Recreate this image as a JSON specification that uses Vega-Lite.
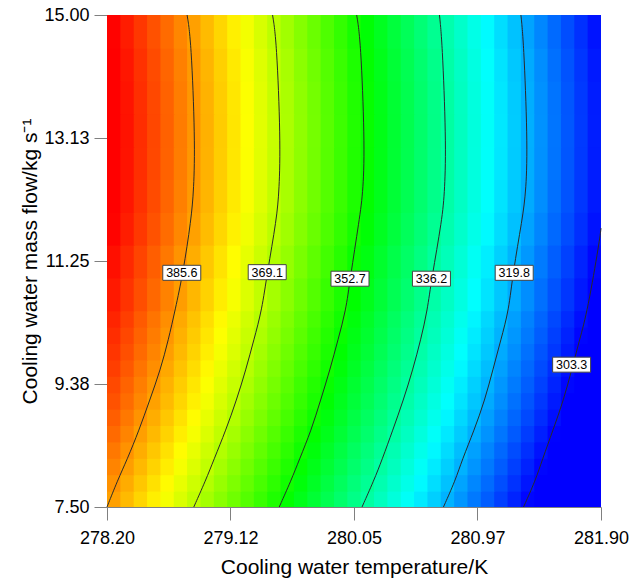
{
  "$schema": "https://vega.github.io/schema/vega-lite/v6.json",
  "width": 494,
  "height": 492,
  "autosize": {"type": "none"},
  "padding": {"left": 107, "top": 15, "right": 39, "bottom": 72},
  "background": "white",
  "config": {
    "view": {"stroke": null},
    "font": "Liberation Sans",
    "axis": {
      "grid": false,
      "tickSize": 13,
      "tickColor": "#808080",
      "domainColor": "#808080",
      "labelFontSize": 18,
      "labelColor": "#000000",
      "labelFont": "Liberation Sans",
      "titleFont": "Liberation Sans",
      "titleFontSize": 21,
      "titleFontWeight": "normal",
      "titleColor": "#000000",
      "labelFlush": false,
      "labelOverlap": false,
      "zindex": 1
    }
  },
  "layer": [
    {
      "data": {
        "values": "x,y,z\n278.2,7.5,385.1\n278.3,7.5,382.6\n278.4,7.5,380\n278.5,7.5,377.5\n278.6,7.5,375\n278.7,7.5,372.4\n278.8,7.5,369.9\n278.9,7.5,367.3\n279,7.5,364.7\n279.1,7.5,362.2\n279.2,7.5,359.6\n279.3,7.5,357\n279.4,7.5,354.4\n279.5,7.5,351.8\n279.6,7.5,349.1\n279.7,7.5,346.5\n279.8,7.5,343.8\n279.9,7.5,341.2\n280,7.5,338.5\n280.1,7.5,335.9\n280.2,7.5,333.2\n280.3,7.5,330.5\n280.4,7.5,327.8\n280.5,7.5,325.1\n280.6,7.5,322.4\n280.7,7.5,319.7\n280.8,7.5,316.9\n280.9,7.5,314.1\n281,7.5,311.4\n281.1,7.5,308.6\n281.2,7.5,305.9\n281.3,7.5,303.1\n281.4,7.5,300.3\n281.5,7.5,297.5\n281.6,7.5,294.7\n281.7,7.5,291.9\n281.8,7.5,289.1\n278.2,7.75,386.5\n278.3,7.75,384\n278.4,7.75,381.4\n278.5,7.75,378.9\n278.6,7.75,376.4\n278.7,7.75,373.8\n278.8,7.75,371.3\n278.9,7.75,368.7\n279,7.75,366.1\n279.1,7.75,363.6\n279.2,7.75,361\n279.3,7.75,358.4\n279.4,7.75,355.8\n279.5,7.75,353.2\n279.6,7.75,350.5\n279.7,7.75,347.9\n279.8,7.75,345.2\n279.9,7.75,342.6\n280,7.75,339.9\n280.1,7.75,337.3\n280.2,7.75,334.6\n280.3,7.75,331.9\n280.4,7.75,329.2\n280.5,7.75,326.5\n280.6,7.75,323.8\n280.7,7.75,321.1\n280.8,7.75,318.3\n280.9,7.75,315.5\n281,7.75,312.8\n281.1,7.75,310\n281.2,7.75,307.3\n281.3,7.75,304.5\n281.4,7.75,301.7\n281.5,7.75,298.9\n281.6,7.75,296.1\n281.7,7.75,293.3\n281.8,7.75,290.5\n278.2,8,387.8\n278.3,8,385.3\n278.4,8,382.7\n278.5,8,380.2\n278.6,8,377.7\n278.7,8,375.1\n278.8,8,372.6\n278.9,8,370\n279,8,367.4\n279.1,8,364.9\n279.2,8,362.3\n279.3,8,359.7\n279.4,8,357.1\n279.5,8,354.5\n279.6,8,351.8\n279.7,8,349.2\n279.8,8,346.5\n279.9,8,343.9\n280,8,341.2\n280.1,8,338.6\n280.2,8,335.9\n280.3,8,333.2\n280.4,8,330.5\n280.5,8,327.8\n280.6,8,325.1\n280.7,8,322.4\n280.8,8,319.6\n280.9,8,316.8\n281,8,314.1\n281.1,8,311.3\n281.2,8,308.6\n281.3,8,305.8\n281.4,8,303\n281.5,8,300.2\n281.6,8,297.4\n281.7,8,294.6\n281.8,8,291.8\n278.2,8.25,389\n278.3,8.25,386.5\n278.4,8.25,383.9\n278.5,8.25,381.4\n278.6,8.25,378.9\n278.7,8.25,376.3\n278.8,8.25,373.8\n278.9,8.25,371.2\n279,8.25,368.6\n279.1,8.25,366.1\n279.2,8.25,363.5\n279.3,8.25,360.9\n279.4,8.25,358.3\n279.5,8.25,355.7\n279.6,8.25,353\n279.7,8.25,350.4\n279.8,8.25,347.7\n279.9,8.25,345.1\n280,8.25,342.4\n280.1,8.25,339.8\n280.2,8.25,337.1\n280.3,8.25,334.4\n280.4,8.25,331.7\n280.5,8.25,329\n280.6,8.25,326.3\n280.7,8.25,323.6\n280.8,8.25,320.8\n280.9,8.25,318\n281,8.25,315.3\n281.1,8.25,312.5\n281.2,8.25,309.8\n281.3,8.25,307\n281.4,8.25,304.2\n281.5,8.25,301.4\n281.6,8.25,298.6\n281.7,8.25,295.8\n281.8,8.25,293\n278.2,8.5,390.3\n278.3,8.5,387.8\n278.4,8.5,385.2\n278.5,8.5,382.7\n278.6,8.5,380.2\n278.7,8.5,377.6\n278.8,8.5,375.1\n278.9,8.5,372.5\n279,8.5,369.9\n279.1,8.5,367.4\n279.2,8.5,364.8\n279.3,8.5,362.2\n279.4,8.5,359.6\n279.5,8.5,357\n279.6,8.5,354.3\n279.7,8.5,351.7\n279.8,8.5,349\n279.9,8.5,346.4\n280,8.5,343.7\n280.1,8.5,341.1\n280.2,8.5,338.4\n280.3,8.5,335.7\n280.4,8.5,333\n280.5,8.5,330.3\n280.6,8.5,327.6\n280.7,8.5,324.9\n280.8,8.5,322.1\n280.9,8.5,319.3\n281,8.5,316.6\n281.1,8.5,313.8\n281.2,8.5,311.1\n281.3,8.5,308.3\n281.4,8.5,305.5\n281.5,8.5,302.7\n281.6,8.5,299.9\n281.7,8.5,297.1\n281.8,8.5,294.3\n278.2,8.75,391.5\n278.3,8.75,389\n278.4,8.75,386.4\n278.5,8.75,383.9\n278.6,8.75,381.4\n278.7,8.75,378.8\n278.8,8.75,376.3\n278.9,8.75,373.7\n279,8.75,371.1\n279.1,8.75,368.6\n279.2,8.75,366\n279.3,8.75,363.4\n279.4,8.75,360.8\n279.5,8.75,358.2\n279.6,8.75,355.5\n279.7,8.75,352.9\n279.8,8.75,350.2\n279.9,8.75,347.6\n280,8.75,344.9\n280.1,8.75,342.3\n280.2,8.75,339.6\n280.3,8.75,336.9\n280.4,8.75,334.2\n280.5,8.75,331.5\n280.6,8.75,328.8\n280.7,8.75,326.1\n280.8,8.75,323.3\n280.9,8.75,320.5\n281,8.75,317.8\n281.1,8.75,315\n281.2,8.75,312.3\n281.3,8.75,309.5\n281.4,8.75,306.7\n281.5,8.75,303.9\n281.6,8.75,301.1\n281.7,8.75,298.3\n281.8,8.75,295.5\n278.2,9,392.6\n278.3,9,390.1\n278.4,9,387.5\n278.5,9,385\n278.6,9,382.5\n278.7,9,379.9\n278.8,9,377.4\n278.9,9,374.8\n279,9,372.2\n279.1,9,369.7\n279.2,9,367.1\n279.3,9,364.5\n279.4,9,361.9\n279.5,9,359.3\n279.6,9,356.6\n279.7,9,354\n279.8,9,351.3\n279.9,9,348.7\n280,9,346\n280.1,9,343.4\n280.2,9,340.7\n280.3,9,338\n280.4,9,335.3\n280.5,9,332.6\n280.6,9,329.9\n280.7,9,327.2\n280.8,9,324.4\n280.9,9,321.6\n281,9,318.9\n281.1,9,316.1\n281.2,9,313.4\n281.3,9,310.6\n281.4,9,307.8\n281.5,9,305\n281.6,9,302.2\n281.7,9,299.4\n281.8,9,296.6\n278.2,9.25,393.5\n278.3,9.25,391\n278.4,9.25,388.4\n278.5,9.25,385.9\n278.6,9.25,383.4\n278.7,9.25,380.8\n278.8,9.25,378.3\n278.9,9.25,375.7\n279,9.25,373.1\n279.1,9.25,370.6\n279.2,9.25,368\n279.3,9.25,365.4\n279.4,9.25,362.8\n279.5,9.25,360.2\n279.6,9.25,357.5\n279.7,9.25,354.9\n279.8,9.25,352.2\n279.9,9.25,349.6\n280,9.25,346.9\n280.1,9.25,344.3\n280.2,9.25,341.6\n280.3,9.25,338.9\n280.4,9.25,336.2\n280.5,9.25,333.5\n280.6,9.25,330.8\n280.7,9.25,328.1\n280.8,9.25,325.3\n280.9,9.25,322.5\n281,9.25,319.8\n281.1,9.25,317\n281.2,9.25,314.3\n281.3,9.25,311.5\n281.4,9.25,308.7\n281.5,9.25,305.9\n281.6,9.25,303.1\n281.7,9.25,300.3\n281.8,9.25,297.5\n278.2,9.5,394.5\n278.3,9.5,392\n278.4,9.5,389.4\n278.5,9.5,386.9\n278.6,9.5,384.4\n278.7,9.5,381.8\n278.8,9.5,379.3\n278.9,9.5,376.7\n279,9.5,374.1\n279.1,9.5,371.6\n279.2,9.5,369\n279.3,9.5,366.4\n279.4,9.5,363.8\n279.5,9.5,361.2\n279.6,9.5,358.5\n279.7,9.5,355.9\n279.8,9.5,353.2\n279.9,9.5,350.6\n280,9.5,347.9\n280.1,9.5,345.3\n280.2,9.5,342.6\n280.3,9.5,339.9\n280.4,9.5,337.2\n280.5,9.5,334.5\n280.6,9.5,331.8\n280.7,9.5,329.1\n280.8,9.5,326.3\n280.9,9.5,323.5\n281,9.5,320.8\n281.1,9.5,318\n281.2,9.5,315.3\n281.3,9.5,312.5\n281.4,9.5,309.7\n281.5,9.5,306.9\n281.6,9.5,304.1\n281.7,9.5,301.3\n281.8,9.5,298.5\n278.2,9.75,395.4\n278.3,9.75,392.9\n278.4,9.75,390.3\n278.5,9.75,387.8\n278.6,9.75,385.3\n278.7,9.75,382.7\n278.8,9.75,380.2\n278.9,9.75,377.6\n279,9.75,375\n279.1,9.75,372.5\n279.2,9.75,369.9\n279.3,9.75,367.3\n279.4,9.75,364.7\n279.5,9.75,362.1\n279.6,9.75,359.4\n279.7,9.75,356.8\n279.8,9.75,354.1\n279.9,9.75,351.5\n280,9.75,348.8\n280.1,9.75,346.2\n280.2,9.75,343.5\n280.3,9.75,340.8\n280.4,9.75,338.1\n280.5,9.75,335.4\n280.6,9.75,332.7\n280.7,9.75,330\n280.8,9.75,327.2\n280.9,9.75,324.4\n281,9.75,321.7\n281.1,9.75,318.9\n281.2,9.75,316.2\n281.3,9.75,313.4\n281.4,9.75,310.6\n281.5,9.75,307.8\n281.6,9.75,305\n281.7,9.75,302.2\n281.8,9.75,299.4\n278.2,10,396.2\n278.3,10,393.7\n278.4,10,391.1\n278.5,10,388.6\n278.6,10,386.1\n278.7,10,383.5\n278.8,10,381\n278.9,10,378.4\n279,10,375.8\n279.1,10,373.3\n279.2,10,370.7\n279.3,10,368.1\n279.4,10,365.5\n279.5,10,362.9\n279.6,10,360.2\n279.7,10,357.6\n279.8,10,354.9\n279.9,10,352.3\n280,10,349.6\n280.1,10,347\n280.2,10,344.3\n280.3,10,341.6\n280.4,10,338.9\n280.5,10,336.2\n280.6,10,333.5\n280.7,10,330.8\n280.8,10,328\n280.9,10,325.2\n281,10,322.5\n281.1,10,319.7\n281.2,10,317\n281.3,10,314.2\n281.4,10,311.4\n281.5,10,308.6\n281.6,10,305.8\n281.7,10,303\n281.8,10,300.2\n278.2,10.25,397\n278.3,10.25,394.5\n278.4,10.25,391.9\n278.5,10.25,389.4\n278.6,10.25,386.9\n278.7,10.25,384.3\n278.8,10.25,381.8\n278.9,10.25,379.2\n279,10.25,376.6\n279.1,10.25,374.1\n279.2,10.25,371.5\n279.3,10.25,368.9\n279.4,10.25,366.3\n279.5,10.25,363.7\n279.6,10.25,361\n279.7,10.25,358.4\n279.8,10.25,355.7\n279.9,10.25,353.1\n280,10.25,350.4\n280.1,10.25,347.8\n280.2,10.25,345.1\n280.3,10.25,342.4\n280.4,10.25,339.7\n280.5,10.25,337\n280.6,10.25,334.3\n280.7,10.25,331.6\n280.8,10.25,328.8\n280.9,10.25,326\n281,10.25,323.3\n281.1,10.25,320.5\n281.2,10.25,317.8\n281.3,10.25,315\n281.4,10.25,312.2\n281.5,10.25,309.4\n281.6,10.25,306.6\n281.7,10.25,303.8\n281.8,10.25,301",
        "format": {"type": "csv", "parse": {"x": "number", "y": "number", "z": "number"}}
      },
      "mark": {"type": "rect", "binSpacing": -1, "clip": true},
      "encoding": {
        "x": {
          "field": "x", "type": "quantitative",
          "bin": {"binned": true, "step": 0.1},
          "scale": {"domain": [278.2, 281.9], "nice": false, "zero": false},
          "title": "Cooling water temperature/K",
          "axis": {
            "values": [278.2, 279.1249, 280.05, 280.9749, 281.9],
            "format": ".2f",
            "labelPadding": 9,
            "titlePadding": 9
          }
        },
        "y": {
          "field": "y", "type": "quantitative",
          "bin": {"binned": true, "step": 0.25},
          "scale": {"domain": [7.5, 15], "nice": false, "zero": false},
          "title": "Cooling water mass flow/kg s⁻¹",
          "axis": {
            "values": [7.5, 9.375, 11.25, 13.125, 15],
            "format": ".2f",
            "labelPadding": 5,
            "titlePadding": 3
          }
        },
        "color": {
          "field": "z", "type": "quantitative",
          "scale": {"domain": [302.5, 327, 351.5, 376, 400.5], "range": ["#0000ff", "#00ffff", "#00ff00", "#ffff00", "#ff0000"], "clamp": true, "interpolate": "rgb"},
          "legend": null
        }
      }
    },
    {
      "data": {
        "values": "x,y,z\n278.2,10.5,398.1\n278.3,10.5,395.6\n278.4,10.5,393\n278.5,10.5,390.5\n278.6,10.5,388\n278.7,10.5,385.4\n278.8,10.5,382.9\n278.9,10.5,380.3\n279,10.5,377.7\n279.1,10.5,375.2\n279.2,10.5,372.6\n279.3,10.5,370\n279.4,10.5,367.4\n279.5,10.5,364.8\n279.6,10.5,362.1\n279.7,10.5,359.5\n279.8,10.5,356.8\n279.9,10.5,354.2\n280,10.5,351.5\n280.1,10.5,348.9\n280.2,10.5,346.2\n280.3,10.5,343.5\n280.4,10.5,340.8\n280.5,10.5,338.1\n280.6,10.5,335.4\n280.7,10.5,332.7\n280.8,10.5,329.9\n280.9,10.5,327.1\n281,10.5,324.4\n281.1,10.5,321.6\n281.2,10.5,318.9\n281.3,10.5,316.1\n281.4,10.5,313.3\n281.5,10.5,310.5\n281.6,10.5,307.7\n281.7,10.5,304.9\n281.8,10.5,302.1\n278.2,11,399.1\n278.3,11,396.6\n278.4,11,394\n278.5,11,391.5\n278.6,11,389\n278.7,11,386.4\n278.8,11,383.9\n278.9,11,381.3\n279,11,378.7\n279.1,11,376.2\n279.2,11,373.6\n279.3,11,371\n279.4,11,368.4\n279.5,11,365.8\n279.6,11,363.1\n279.7,11,360.5\n279.8,11,357.8\n279.9,11,355.2\n280,11,352.5\n280.1,11,349.9\n280.2,11,347.2\n280.3,11,344.5\n280.4,11,341.8\n280.5,11,339.1\n280.6,11,336.4\n280.7,11,333.7\n280.8,11,330.9\n280.9,11,328.1\n281,11,325.4\n281.1,11,322.6\n281.2,11,319.9\n281.3,11,317.1\n281.4,11,314.3\n281.5,11,311.5\n281.6,11,308.7\n281.7,11,305.9\n281.8,11,303.1\n278.2,11.5,400.2\n278.3,11.5,397.7\n278.4,11.5,395.1\n278.5,11.5,392.6\n278.6,11.5,390.1\n278.7,11.5,387.5\n278.8,11.5,385\n278.9,11.5,382.4\n279,11.5,379.8\n279.1,11.5,377.3\n279.2,11.5,374.7\n279.3,11.5,372.1\n279.4,11.5,369.5\n279.5,11.5,366.9\n279.6,11.5,364.2\n279.7,11.5,361.6\n279.8,11.5,358.9\n279.9,11.5,356.3\n280,11.5,353.6\n280.1,11.5,351\n280.2,11.5,348.3\n280.3,11.5,345.6\n280.4,11.5,342.9\n280.5,11.5,340.2\n280.6,11.5,337.5\n280.7,11.5,334.8\n280.8,11.5,332\n280.9,11.5,329.2\n281,11.5,326.5\n281.1,11.5,323.7\n281.2,11.5,321\n281.3,11.5,318.2\n281.4,11.5,315.4\n281.5,11.5,312.6\n281.6,11.5,309.8\n281.7,11.5,307\n281.8,11.5,304.2\n278.2,12,400.9\n278.3,12,398.4\n278.4,12,395.8\n278.5,12,393.3\n278.6,12,390.8\n278.7,12,388.2\n278.8,12,385.7\n278.9,12,383.1\n279,12,380.5\n279.1,12,378\n279.2,12,375.4\n279.3,12,372.8\n279.4,12,370.2\n279.5,12,367.6\n279.6,12,364.9\n279.7,12,362.3\n279.8,12,359.6\n279.9,12,357\n280,12,354.3\n280.1,12,351.7\n280.2,12,349\n280.3,12,346.3\n280.4,12,343.6\n280.5,12,340.9\n280.6,12,338.2\n280.7,12,335.5\n280.8,12,332.7\n280.9,12,329.9\n281,12,327.2\n281.1,12,324.4\n281.2,12,321.7\n281.3,12,318.9\n281.4,12,316.1\n281.5,12,313.3\n281.6,12,310.5\n281.7,12,307.7\n281.8,12,304.9\n278.2,12.5,401.2\n278.3,12.5,398.7\n278.4,12.5,396.1\n278.5,12.5,393.6\n278.6,12.5,391.1\n278.7,12.5,388.5\n278.8,12.5,386\n278.9,12.5,383.4\n279,12.5,380.8\n279.1,12.5,378.3\n279.2,12.5,375.7\n279.3,12.5,373.1\n279.4,12.5,370.5\n279.5,12.5,367.9\n279.6,12.5,365.2\n279.7,12.5,362.6\n279.8,12.5,359.9\n279.9,12.5,357.3\n280,12.5,354.6\n280.1,12.5,352\n280.2,12.5,349.3\n280.3,12.5,346.6\n280.4,12.5,343.9\n280.5,12.5,341.2\n280.6,12.5,338.5\n280.7,12.5,335.8\n280.8,12.5,333\n280.9,12.5,330.2\n281,12.5,327.5\n281.1,12.5,324.7\n281.2,12.5,322\n281.3,12.5,319.2\n281.4,12.5,316.4\n281.5,12.5,313.6\n281.6,12.5,310.8\n281.7,12.5,308\n281.8,12.5,305.2\n278.2,13,401.3\n278.3,13,398.8\n278.4,13,396.2\n278.5,13,393.7\n278.6,13,391.2\n278.7,13,388.6\n278.8,13,386.1\n278.9,13,383.5\n279,13,380.9\n279.1,13,378.4\n279.2,13,375.8\n279.3,13,373.2\n279.4,13,370.6\n279.5,13,368\n279.6,13,365.3\n279.7,13,362.7\n279.8,13,360\n279.9,13,357.4\n280,13,354.7\n280.1,13,352.1\n280.2,13,349.4\n280.3,13,346.7\n280.4,13,344\n280.5,13,341.3\n280.6,13,338.6\n280.7,13,335.9\n280.8,13,333.1\n280.9,13,330.3\n281,13,327.6\n281.1,13,324.8\n281.2,13,322.1\n281.3,13,319.3\n281.4,13,316.5\n281.5,13,313.7\n281.6,13,310.9\n281.7,13,308.1\n281.8,13,305.3\n278.2,13.5,401.2\n278.3,13.5,398.7\n278.4,13.5,396.1\n278.5,13.5,393.6\n278.6,13.5,391.1\n278.7,13.5,388.5\n278.8,13.5,386\n278.9,13.5,383.4\n279,13.5,380.8\n279.1,13.5,378.3\n279.2,13.5,375.7\n279.3,13.5,373.1\n279.4,13.5,370.5\n279.5,13.5,367.9\n279.6,13.5,365.2\n279.7,13.5,362.6\n279.8,13.5,359.9\n279.9,13.5,357.3\n280,13.5,354.6\n280.1,13.5,352\n280.2,13.5,349.3\n280.3,13.5,346.6\n280.4,13.5,343.9\n280.5,13.5,341.2\n280.6,13.5,338.5\n280.7,13.5,335.8\n280.8,13.5,333\n280.9,13.5,330.2\n281,13.5,327.5\n281.1,13.5,324.7\n281.2,13.5,322\n281.3,13.5,319.2\n281.4,13.5,316.4\n281.5,13.5,313.6\n281.6,13.5,310.8\n281.7,13.5,308\n281.8,13.5,305.2\n278.2,14,400.9\n278.3,14,398.4\n278.4,14,395.8\n278.5,14,393.3\n278.6,14,390.8\n278.7,14,388.2\n278.8,14,385.7\n278.9,14,383.1\n279,14,380.5\n279.1,14,378\n279.2,14,375.4\n279.3,14,372.8\n279.4,14,370.2\n279.5,14,367.6\n279.6,14,364.9\n279.7,14,362.3\n279.8,14,359.6\n279.9,14,357\n280,14,354.3\n280.1,14,351.7\n280.2,14,349\n280.3,14,346.3\n280.4,14,343.6\n280.5,14,340.9\n280.6,14,338.2\n280.7,14,335.5\n280.8,14,332.7\n280.9,14,329.9\n281,14,327.2\n281.1,14,324.4\n281.2,14,321.7\n281.3,14,318.9\n281.4,14,316.1\n281.5,14,313.3\n281.6,14,310.5\n281.7,14,307.7\n281.8,14,304.9\n278.2,14.5,400.3\n278.3,14.5,397.8\n278.4,14.5,395.2\n278.5,14.5,392.7\n278.6,14.5,390.2\n278.7,14.5,387.6\n278.8,14.5,385.1\n278.9,14.5,382.5\n279,14.5,379.9\n279.1,14.5,377.4\n279.2,14.5,374.8\n279.3,14.5,372.2\n279.4,14.5,369.6\n279.5,14.5,367\n279.6,14.5,364.3\n279.7,14.5,361.7\n279.8,14.5,359\n279.9,14.5,356.4\n280,14.5,353.7\n280.1,14.5,351.1\n280.2,14.5,348.4\n280.3,14.5,345.7\n280.4,14.5,343\n280.5,14.5,340.3\n280.6,14.5,337.6\n280.7,14.5,334.9\n280.8,14.5,332.1\n280.9,14.5,329.3\n281,14.5,326.6\n281.1,14.5,323.8\n281.2,14.5,321.1\n281.3,14.5,318.3\n281.4,14.5,315.5\n281.5,14.5,312.7\n281.6,14.5,309.9\n281.7,14.5,307.1\n281.8,14.5,304.3",
        "format": {"type": "csv", "parse": {"x": "number", "y": "number", "z": "number"}}
      },
      "mark": {"type": "rect", "binSpacing": -1, "clip": true},
      "encoding": {
        "x": {"field": "x", "type": "quantitative", "bin": {"binned": true, "step": 0.1}, "title": "Cooling water temperature/K"},
        "y": {"field": "y", "type": "quantitative", "bin": {"binned": true, "step": 0.5}, "title": "Cooling water mass flow/kg s⁻¹"},
        "color": {"field": "z", "type": "quantitative", "legend": null}
      }
    },
    {
      "data": {
        "values": [
          {"level": "385.6", "x": 278.80, "y": 15.0}, {"level": "385.6", "x": 278.83, "y": 14.62}, {"level": "385.6", "x": 278.86, "y": 13.09}, {"level": "385.6", "x": 278.85, "y": 12.33}, {"level": "385.6", "x": 278.83, "y": 11.88}, {"level": "385.6", "x": 278.77, "y": 11.07}, {"level": "385.6", "x": 278.71, "y": 10.50}, {"level": "385.6", "x": 278.66, "y": 10.05}, {"level": "385.6", "x": 278.60, "y": 9.59}, {"level": "385.6", "x": 278.52, "y": 9.13}, {"level": "385.6", "x": 278.44, "y": 8.67}, {"level": "385.6", "x": 278.35, "y": 8.22}, {"level": "385.6", "x": 278.28, "y": 7.91}, {"level": "385.6", "x": 278.20, "y": 7.5},
          {"level": "369.1", "x": 279.44, "y": 15.0}, {"level": "369.1", "x": 279.47, "y": 14.62}, {"level": "369.1", "x": 279.50, "y": 13.09}, {"level": "369.1", "x": 279.49, "y": 12.33}, {"level": "369.1", "x": 279.47, "y": 11.88}, {"level": "369.1", "x": 279.40, "y": 11.07}, {"level": "369.1", "x": 279.36, "y": 10.50}, {"level": "369.1", "x": 279.30, "y": 10.05}, {"level": "369.1", "x": 279.24, "y": 9.59}, {"level": "369.1", "x": 279.17, "y": 9.13}, {"level": "369.1", "x": 279.09, "y": 8.67}, {"level": "369.1", "x": 279.00, "y": 8.22}, {"level": "369.1", "x": 278.94, "y": 7.91}, {"level": "369.1", "x": 278.85, "y": 7.5},
          {"level": "352.7", "x": 280.07, "y": 15.0}, {"level": "352.7", "x": 280.10, "y": 14.62}, {"level": "352.7", "x": 280.13, "y": 13.09}, {"level": "352.7", "x": 280.12, "y": 12.33}, {"level": "352.7", "x": 280.09, "y": 11.88}, {"level": "352.7", "x": 280.02, "y": 10.97}, {"level": "352.7", "x": 279.99, "y": 10.50}, {"level": "352.7", "x": 279.93, "y": 10.05}, {"level": "352.7", "x": 279.87, "y": 9.59}, {"level": "352.7", "x": 279.80, "y": 9.13}, {"level": "352.7", "x": 279.73, "y": 8.67}, {"level": "352.7", "x": 279.64, "y": 8.22}, {"level": "352.7", "x": 279.58, "y": 7.91}, {"level": "352.7", "x": 279.49, "y": 7.5},
          {"level": "336.2", "x": 280.69, "y": 15.0}, {"level": "336.2", "x": 280.71, "y": 14.62}, {"level": "336.2", "x": 280.74, "y": 13.09}, {"level": "336.2", "x": 280.73, "y": 12.33}, {"level": "336.2", "x": 280.71, "y": 11.88}, {"level": "336.2", "x": 280.63, "y": 10.97}, {"level": "336.2", "x": 280.60, "y": 10.50}, {"level": "336.2", "x": 280.55, "y": 10.05}, {"level": "336.2", "x": 280.49, "y": 9.59}, {"level": "336.2", "x": 280.42, "y": 9.13}, {"level": "336.2", "x": 280.34, "y": 8.67}, {"level": "336.2", "x": 280.26, "y": 8.22}, {"level": "336.2", "x": 280.20, "y": 7.91}, {"level": "336.2", "x": 280.11, "y": 7.5},
          {"level": "319.8", "x": 281.30, "y": 15.0}, {"level": "319.8", "x": 281.32, "y": 14.62}, {"level": "319.8", "x": 281.35, "y": 13.09}, {"level": "319.8", "x": 281.34, "y": 12.33}, {"level": "319.8", "x": 281.31, "y": 11.88}, {"level": "319.8", "x": 281.24, "y": 11.07}, {"level": "319.8", "x": 281.21, "y": 10.50}, {"level": "319.8", "x": 281.15, "y": 10.05}, {"level": "319.8", "x": 281.09, "y": 9.59}, {"level": "319.8", "x": 281.03, "y": 9.13}, {"level": "319.8", "x": 280.95, "y": 8.67}, {"level": "319.8", "x": 280.86, "y": 8.22}, {"level": "319.8", "x": 280.81, "y": 7.91}, {"level": "319.8", "x": 280.72, "y": 7.5},
          {"level": "303.3", "x": 281.90, "y": 11.75}, {"level": "303.3", "x": 281.89, "y": 11.57}, {"level": "303.3", "x": 281.80, "y": 10.50}, {"level": "303.3", "x": 281.74, "y": 10.05}, {"level": "303.3", "x": 281.68, "y": 9.59}, {"level": "303.3", "x": 281.62, "y": 9.13}, {"level": "303.3", "x": 281.54, "y": 8.67}, {"level": "303.3", "x": 281.46, "y": 8.22}, {"level": "303.3", "x": 281.41, "y": 7.91}, {"level": "303.3", "x": 281.32, "y": 7.5}
        ]
      },
      "mark": {"type": "line", "color": "#2a2a2a", "strokeWidth": 1, "interpolate": "basis"},
      "encoding": {
        "x": {"field": "x", "type": "quantitative", "title": "Cooling water temperature/K"},
        "y": {"field": "y", "type": "quantitative", "title": "Cooling water mass flow/kg s⁻¹"},
        "detail": {"field": "level", "type": "nominal"},
        "order": {"field": "y", "type": "quantitative"}
      }
    },
    {
      "data": {
        "values": [
          {"label": "385.6", "x": 278.76, "y": 11.07},
          {"label": "369.1", "x": 279.40, "y": 11.08},
          {"label": "352.7", "x": 280.02, "y": 10.98},
          {"label": "336.2", "x": 280.63, "y": 10.98},
          {"label": "319.8", "x": 281.25, "y": 11.07},
          {"label": "303.3", "x": 281.68, "y": 9.67}
        ]
      },
      "layer": [
        {
          "mark": {"type": "point", "shape": "M-1,-0.395L1,-0.395L1,0.395L-1,0.395Z", "size": 1444, "filled": true, "fill": "#ffffff", "stroke": "#444444", "strokeWidth": 1, "opacity": 1},
          "encoding": {
            "x": {"field": "x", "type": "quantitative", "title": "Cooling water temperature/K"},
            "y": {"field": "y", "type": "quantitative", "title": "Cooling water mass flow/kg s⁻¹"}
          }
        },
        {
          "mark": {"type": "text", "font": "Liberation Sans", "fontSize": 12.5, "color": "#000000", "align": "center", "baseline": "middle", "dy": 0.5},
          "encoding": {
            "x": {"field": "x", "type": "quantitative", "title": "Cooling water temperature/K"},
            "y": {"field": "y", "type": "quantitative", "title": "Cooling water mass flow/kg s⁻¹"},
            "text": {"field": "label", "type": "nominal"}
          }
        }
      ]
    },
    {
      "mark": {"type": "rule", "color": "#808080", "strokeWidth": 1},
      "encoding": {
        "x": {"datum": 278.2, "type": "quantitative", "title": "Cooling water temperature/K"},
        "x2": {"datum": 281.9},
        "y": {"datum": 15, "type": "quantitative", "title": "Cooling water mass flow/kg s⁻¹"}
      }
    }
  ]
}
